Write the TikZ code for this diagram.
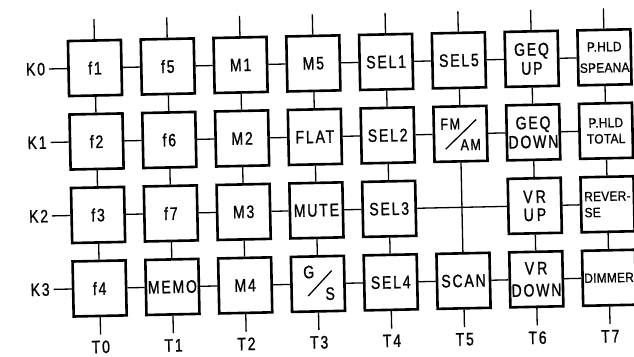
\documentclass[tikz,border=0pt]{standalone}
\usepackage{fontspec}
\setmainfont{Liberation Sans}
\newfontfamily\lblfont[FakeStretch=0.78,LetterSpace=10,FakeBold=1]{Liberation Sans}
\newfontfamily\smlfont[FakeStretch=0.88,LetterSpace=2,FakeBold=1]{Liberation Sans}
\newcommand\bigtxt{\lblfont\fontsize{18}{19}\selectfont}
\newcommand\midtxt{\lblfont\fontsize{16}{17}\selectfont}
\newcommand\smtxt{\smlfont\fontsize{13.5}{16}\selectfont}
\begin{document}
\begin{tikzpicture}[x=1pt,y=-1pt,
  box/.style={draw,line width=2.6pt,minimum width=53pt,minimum height=55pt,inner sep=0pt,align=center,font=\bigtxt},
  wire/.style={line width=1.3pt},
  lbl/.style={inner sep=0pt,font=\bigtxt},
  tlbl/.style={inner xsep=0pt,inner ysep=6pt,outer sep=0pt,font=\bigtxt},
  klbl/.style={inner xsep=4pt,inner ysep=0pt,outer sep=0pt,anchor=east,font=\bigtxt}]
\useasboundingbox (0,0) rectangle (634,356);
\begin{scope}[rotate around={1.2:(95,68)},transform shape]
% row 0
\node[box] (n00) at (95,68) {f1};
\node[box] (n01) at (167.8,68) {f5};
\node[box] (n02) at (240.6,68) {M1};
\node[box] (n03) at (313.4,68) {M5};
\node[box] (n04) at (386.2,68) {SEL1};
\node[box] (n05) at (459,68) {SEL5};
\node[box] (n06) at (531.8,68) {GEQ\\UP};
\node[box,font=\smtxt] (n07) at (604.6,68) {P.HLD\\[5pt]SPEANA};
% row 1
\node[box] (n10) at (95,141.5) {f2};
\node[box] (n11) at (167.8,141.5) {f6};
\node[box] (n12) at (240.6,141.5) {M2};
\node[box] (n13) at (313.4,141.5) {FLAT};
\node[box] (n14) at (386.2,141.5) {SEL2};
\node[box] (n15) at (459,141.5) {};
\node[box] (n16) at (531.8,141.5) {GEQ\\DOWN};
\node[box,font=\smtxt] (n17) at (604.6,141.5) {P.HLD\\TOTAL};
% row 2
\node[box] (n20) at (95,215) {f3};
\node[box] (n21) at (167.8,215) {f7};
\node[box] (n22) at (240.6,215) {M3};
\node[box] (n23) at (313.4,215) {MUTE};
\node[box] (n24) at (386.2,215) {SEL3};
\node[box] (n26) at (531.8,215) {V\kern3pt R\\[-1pt]U\kern3pt P};
\node[box,font=\smtxt,align=left] (n27) at (604.6,215) {REVER-\\SE};
% row 3
\node[box] (n30) at (95,288.5) {f4};
\node[box] (n31) at (167.8,288.5) {MEMO};
\node[box] (n32) at (240.6,288.5) {M4};
\node[box] (n33) at (313.4,288.5) {};
\node[box] (n34) at (386.2,288.5) {SEL4};
\node[box] (n35) at (459,288.5) {SCAN};
\node[box] (n36) at (531.8,288.5) {V\kern3pt R\\[3pt]DOWN};
\node[box,font=\smtxt] (n37) at (604.6,288.5) {DIMMER};
% FM/AM
\node[lbl,font=\midtxt] (fm) at (449,131.5) {FM};
\node[lbl,font=\midtxt] (am) at (469,152.5) {AM};
\coordinate (fa1) at (444,156.5);
\coordinate (fa2) at (475,127.5);
\draw[wire] (fa1) -- (fa2);
% G/S
\node[lbl] (gg) at (304.4,276.5) {G};
\node[lbl] (ss) at (325.4,298.5) {S};
\coordinate (gs1) at (303.4,300.5);
\coordinate (gs2) at (327.4,275.5);
\draw[wire] (gs1) -- (gs2);
% horizontal wires
\foreach \r in {0,1,3}{
  \foreach \a/\b in {0/1,1/2,2/3,3/4,4/5,5/6,6/7}{
    \draw[wire] (n\r\a.east) -- (n\r\b.west);}}
\foreach \a/\b in {0/1,1/2,2/3,3/4,4/6,6/7}{
  \draw[wire] (n2\a.east) -- (n2\b.west);}
% vertical wires
\foreach \c in {0,1,2,3,4,6,7}{
  \foreach \a/\b in {0/1,1/2,2/3}{
    \draw[wire] (n\a\c.south) -- (n\b\c.north);}}
\draw[wire] (n05.south) -- (n15.north);
\draw[wire] (n15.south) -- (n35.north);
% top stubs and T labels
\foreach \c/\x in {0/95,1/167.8,2/240.6,3/313.4,4/386.2,5/459,6/531.8,7/604.6}{
  \coordinate (u\c) at (\x,19);
  \draw[wire] (n0\c.north) -- (u\c);
  \node[tlbl] (t\c) at (\x,347) {T\c};
  \draw[wire] (n3\c.south) -- (t\c.north);}
% K labels
\foreach \r/\y in {0/68,1/141.5,2/215,3/288.5}{
  \node[klbl] (k\r) at (49,\y) {K\r};
  \draw[wire] (k\r.east) -- (n\r0.west);}
\end{scope}
\end{tikzpicture}
\end{document}
